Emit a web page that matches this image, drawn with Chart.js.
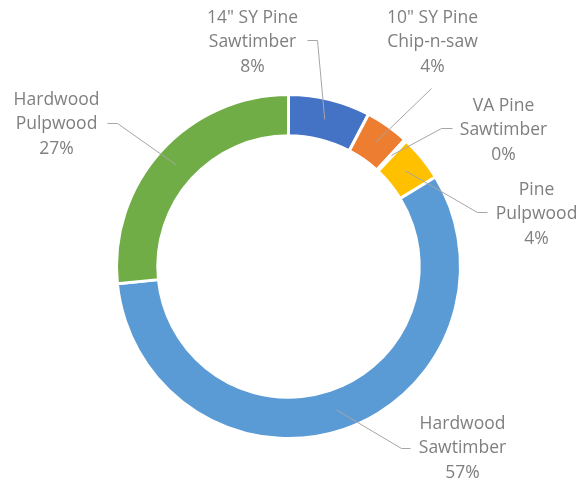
<!DOCTYPE html>
<html>
<head>
<meta charset="utf-8">
<script src="https://cdn.jsdelivr.net/npm/chart.js@4.4.0/dist/chart.umd.min.js"></script>
<style>
  html, body { margin: 0; padding: 0; background: #ffffff; }
  #wrap { width: 588px; height: 481px; }
</style>
</head>
<body>
<div id="wrap"><canvas id="c" width="588" height="481"></canvas></div>
<script>
// ---- data ----
const categories = ['14" SY Pine Sawtimber', '10" SY Pine Chip-n-saw', 'VA Pine Sawtimber', 'Pine Pulpwood', 'Hardwood Sawtimber', 'Hardwood Pulpwood'];
const labelLines = [['14" SY Pine', 'Sawtimber'], ['10" SY Pine', 'Chip-n-saw'], ['VA Pine', 'Sawtimber'], ['Pine', 'Pulpwood'], ['Hardwood', 'Sawtimber'], ['Hardwood', 'Pulpwood']];
const shares = [7.7, 4.1, 0.2, 4.3, 57.1, 26.6];
const colors = ['#4472C4', '#ED7D31', '#A5A5A5', '#FFC000', '#5B9BD5', '#70AD47'];

// ---- label layout (offsets from ring centre, in px at outer radius 172) ----
const REF_R = 172;
const labelLayout = [
  { c: [-36, -224], lead: [[19, -226], [29, -226]] },
  { c: [144, -224], lead: [[143, -178]] },
  { c: [215, -136], lead: [[164, -138], [153, -138]] },
  { c: [248, -52],  lead: [[199, -54], [189, -54]] },
  { c: [174, 182],  lead: [[122, 182], [113, 182]] },
  { c: [-232, -142], lead: [[-181, -143], [-171, -143]] }
];

const labelPlugin = {
  id: 'outsideLabels',
  afterDatasetsDraw(chart) {
    const ctx = chart.ctx;
    const meta = chart.getDatasetMeta(0);
    const data = chart.data.datasets[0].data;
    const total = data.reduce((a, b) => a + b, 0);
    ctx.save();
    meta.data.forEach((arc, i) => {
      const cx = arc.x, cy = arc.y;
      const s = arc.outerRadius / REF_R;
      const L = labelLayout[i];
      const mid = arc.getCenterPoint();
      // leader line
      ctx.beginPath();
      ctx.strokeStyle = '#A6A6A6';
      ctx.lineWidth = 1;
      L.lead.forEach((p, k) => {
        const x = cx + p[0] * s, y = cy + p[1] * s;
        if (k === 0) ctx.moveTo(x, y); else ctx.lineTo(x, y);
      });
      ctx.lineTo(mid.x, mid.y);
      ctx.stroke();
      // text
      const lines = labelLines[i].concat([Math.round(data[i] / total * 100) + '%']);
      ctx.fillStyle = '#7F7F7F';
      ctx.font = '17.5px "Open Sans", sans-serif';
      ctx.textAlign = 'center';
      ctx.textBaseline = 'middle';
      const lx = cx + L.c[0] * s, ly = cy + L.c[1] * s;
      lines.forEach((t, k) => {
        ctx.fillText(t, lx, ly + (k - 1) * 24.5);
      });
    });
    ctx.restore();
  }
};

new Chart(document.getElementById('c'), {
  type: 'doughnut',
  data: {
    labels: categories,
    datasets: [{
      data: shares,
      backgroundColor: colors,
      borderColor: '#ffffff',
      borderWidth: 3
    }]
  },
  options: {
    responsive: false,
    devicePixelRatio: 1,
    animation: false,
    cutout: '76%',
    layout: { padding: { left: 115, right: 126, top: 93, bottom: 41 } },
    plugins: {
      legend: { display: false },
      tooltip: { enabled: false }
    }
  },
  plugins: [labelPlugin]
});
</script>
</body>
</html>
